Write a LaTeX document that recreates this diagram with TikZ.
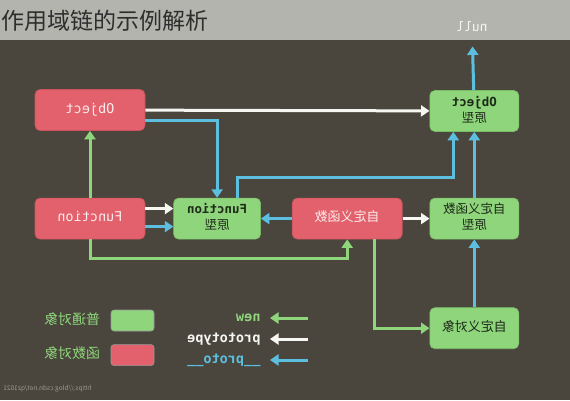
\documentclass[tikz,border=0pt]{standalone}
\usepackage{fontspec}
\usepackage{graphicx}
\setmainfont{Noto Sans CJK SC}
\setmonofont{DejaVu Sans Mono}
\usetikzlibrary{arrows.meta,positioning,calc}
\definecolor{cBack}{HTML}{4A463D}
\definecolor{cBand}{HTML}{B4B4AE}
\definecolor{cTitle}{HTML}{2E2E2E}
\definecolor{cRed}{HTML}{E2616C}
\definecolor{cRedEdge}{HTML}{C9525C}
\definecolor{cRedInk}{HTML}{FBEAEA}
\definecolor{cGreen}{HTML}{8FD57C}
\definecolor{cGreenEdge}{HTML}{79BE67}
\definecolor{cGreenInk}{HTML}{1E2A1A}
\definecolor{cBlue}{HTML}{5DBFE0}
\definecolor{cWhite}{HTML}{F6F6F2}
\definecolor{cMark}{HTML}{9C9A91}

% mirrored text, as the picture prints it
\newcommand{\flip}[1]{\reflectbox{\begin{tabular}{@{}c@{}}#1\end{tabular}}}

\begin{document}
\begin{tikzpicture}[
  x=1pt, y=-1pt,
  line width=3pt,
  >={Triangle[length=8.5pt,width=11pt]},
  fnbox/.style={rectangle, rounded corners=5pt, fill=cRed, draw=cRedEdge, line width=0.6pt,
                minimum width=110pt, minimum height=41pt, inner sep=0pt, text=cRedInk,
                font=\fontsize{13.5}{15}\selectfont\ttfamily},
  objbox/.style={rectangle, rounded corners=5pt, fill=cGreen, draw=cGreenEdge, line width=0.6pt,
                 minimum width=89pt, minimum height=41pt, inner sep=0pt, text=cGreenInk,
                 font=\fontsize{12.5}{16}\selectfont\ttfamily\bfseries},
  keybox/.style={rectangle, rounded corners=3pt, draw=black!40, line width=0.6pt,
                 minimum width=43pt, minimum height=21pt, inner sep=0pt},
  legtxt/.style={inner sep=0pt, font=\fontsize{13.5}{15}\selectfont\ttfamily\bfseries},
  new/.style={draw=cGreen, ->},
  proto/.style={draw=cWhite, ->},
  link/.style={draw=cBlue, ->},
]
\useasboundingbox (0,0) rectangle (570,400);
\fill[cBand] (0,0) rectangle (570,40);
\fill[cBack] (0,40) rectangle (570,400);

% title and top
\node[anchor=west, inner sep=0pt, text=cTitle, font=\fontsize{23}{23}\selectfont] (title) at (0,21) {作用域链的示例解析};
\node[inner sep=0pt, text=cWhite, font=\fontsize{13}{13}\selectfont\ttfamily] (null) at (472,28) {\flip{null}};

% boxes
\node[fnbox] (obj) at (90,110) {\flip{Object}};
\node[fnbox, below=67pt of obj] (fn) {\flip{Function}};
\node[objbox, right=28pt of fn, minimum width=87pt] (fnproto) {\flip{Function\\\rmfamily\mdseries 原型}};
\node[fnbox, right=31pt of fnproto, font=\fontsize{13}{15}\selectfont] (myfn) {\flip{自定义函数}};
\node[objbox, right=27pt of myfn, font=\fontsize{12.5}{16}\selectfont] (myfnproto) {\flip{自定义函数\\原型}};
\node[objbox, above=66pt of myfnproto] (objproto) {\flip{Object\\\rmfamily\mdseries 原型}};
\node[objbox, below=68pt of myfnproto, font=\fontsize{13}{16}\selectfont] (myobj) {\flip{自定义对象}};

% prototype
\draw[proto] (obj) -- (objproto);
\draw[proto] ($(fn.east)+(0,-10)$) -- ($(fnproto.west)+(0,-10)$);
\draw[proto] (myfn) -- (myfnproto);

% __proto__
\draw[link] ($(obj.east)+(0,10)$) -| (fnproto.north);
\draw[link] ($(fn.east)+(0,8)$) -- ($(fnproto.west)+(0,8)$);
\draw[link] (myfn) -- (fnproto);
\draw[link] ($(fnproto.north)+(20,0)$) -- ++(0,-20) -| ($(objproto.south)+(-21,0)$);
\draw[link] (myfnproto) -- (objproto);
\draw[link] (myobj) -- (myfnproto);
\draw[link, shorten >=10pt] (objproto) -- (null);

% new
\draw[new] (fn) -- (obj);
\draw[new] (fn.south) -- ++(0,19) -| (myfn.south);
\draw[new] ($(myfn.south)+(27,0)$) |- (myobj.west);

% legend
\node[keybox, fill=cGreen] (kplain) at (132.5,320.5) {};
\node[keybox, fill=cRed, below=13pt of kplain] (kfunc) {};
\node[legtxt, text=cGreen, left=9pt of kplain, font=\fontsize{14}{15}\selectfont] (tplain) {\flip{普通对象}};
\node[legtxt, text=cGreen, left=9pt of kfunc, font=\fontsize{14}{15}\selectfont] (tfunc) {\flip{函数对象}};

\coordinate (anew) at (308,318);
\coordinate (bnew) at (270,318);
\coordinate (aproto) at (308,339);
\coordinate (bproto) at (270,339);
\coordinate (alink) at (308,360);
\coordinate (blink) at (270,360);
\draw[new] (anew) -- (bnew);
\draw[proto] (aproto) -- (bproto);
\draw[link] (alink) -- (blink);
\node[legtxt, text=cGreen, left=8pt of bnew] (tnew) {\flip{new}};
\node[legtxt, text=cWhite, left=8pt of bproto] (tproto) {\flip{prototype}};
\node[legtxt, text=cBlue, left=8pt of blink] (tlink) {\flip{\_\_proto\_\_}};

\node[anchor=west, inner sep=0pt, text=cMark, font=\fontsize{6.5}{7}\selectfont] (mark) at (2,389) {\reflectbox{https://blog.csdn.net/qz1021}};

\end{tikzpicture}
\end{document}
